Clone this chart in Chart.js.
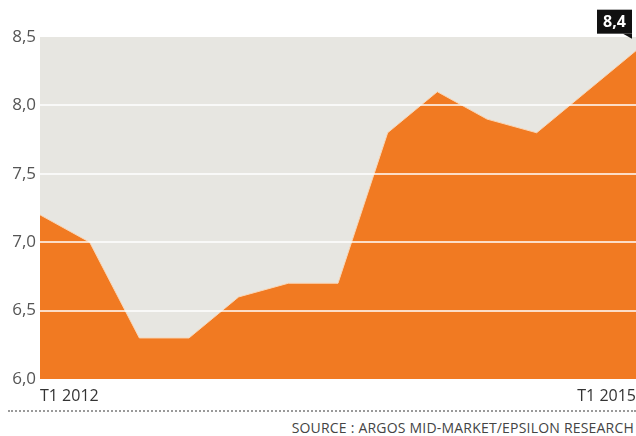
<!DOCTYPE html>
<html>
<head>
<meta charset="utf-8">
<script src="https://cdn.jsdelivr.net/npm/chart.js@4.4.1/dist/chart.umd.min.js"></script>
<style>
  html, body { margin: 0; padding: 0; background: #fff; }
  #wrap { position: relative; width: 636px; height: 436px; overflow: hidden; }
  #chartBox { position: absolute; left: 0; top: 0; width: 636px; height: 406px; }
  .rule { position: absolute; left: 8px; right: 0; top: 410px; border-top: 2px dotted #9a9a9a; }
  .source { position: absolute; right: 2px; top: 418px; font: 14px "Open Sans", sans-serif; color: #444; letter-spacing: 0.2px; }
</style>
</head>
<body>
<div id="wrap">
  <div id="chartBox"><canvas id="chart"></canvas></div>
  <div class="rule"></div>
  <div class="source">SOURCE : ARGOS MID-MARKET/EPSILON RESEARCH</div>
</div>
<script>
const quarters = [
  "T1 2012", "T2 2012", "T3 2012", "T4 2012",
  "T1 2013", "T2 2013", "T3 2013", "T4 2013",
  "T1 2014", "T2 2014", "T3 2014", "T4 2014",
  "T1 2015"
];
const multiples = [7.2, 7.0, 6.3, 6.3, 6.6, 6.7, 6.7, 7.8, 8.1, 7.9, 7.8, 8.1, 8.4];
const shownLabels = ["T1 2012", "T1 2015"];
const yTicks = [6.0, 6.5, 7.0, 7.5, 8.0, 8.5];

const fmt = (v) => v.toFixed(1).replace(".", ",");

const plotBackground = {
  id: "plotBackground",
  beforeDraw(chart) {
    const { ctx, chartArea: a } = chart;
    ctx.save();
    ctx.fillStyle = "#e7e6e1";
    ctx.fillRect(a.left, a.top, a.right - a.left, a.bottom - a.top);
    ctx.restore();
  }
};

const lastValueTag = {
  id: "lastValueTag",
  afterDraw(chart) {
    const { ctx } = chart;
    const i = multiples.length - 1;
    const px = chart.scales.x.getPixelForValue(i);
    const py = chart.scales.y.getPixelForValue(multiples[i]);
    const right = px - 4, bottom = py - 17, w = 35, h = 24;
    ctx.save();
    ctx.fillStyle = "#111";
    ctx.fillRect(right - w, bottom - h, w, h);
    ctx.beginPath();
    ctx.moveTo(right - 9, bottom);
    ctx.lineTo(right, bottom);
    ctx.lineTo(right, bottom + 5);
    ctx.closePath();
    ctx.fill();
    ctx.fillStyle = "#fff";
    ctx.font = 'bold 16px "Open Sans", sans-serif';
    ctx.textAlign = "center";
    ctx.textBaseline = "middle";
    ctx.fillText(fmt(multiples[i]), right - w / 2, bottom - h / 2 + 1);
    ctx.restore();
  }
};

new Chart(document.getElementById("chart"), {
  type: "line",
  data: {
    labels: quarters,
    datasets: [{
      data: multiples,
      fill: "start",
      backgroundColor: "#f17a22",
      borderColor: "#f9d6b6",
      borderWidth: 1,
      pointRadius: 0,
      tension: 0
    }]
  },
  options: {
    responsive: true,
    maintainAspectRatio: false,
    animation: false,
    layout: { padding: { top: 37, left: 0, right: 0, bottom: 0 } },
    plugins: { legend: { display: false }, tooltip: { enabled: false } },
    scales: {
      x: {
        offset: false,
        border: { display: false },
        grid: { display: false, drawTicks: false },
        ticks: {
          autoSkip: false,
          maxRotation: 0,
          align: "inner",
          padding: 8,
          color: "#333",
          font: { family: "Open Sans", size: 16 },
          callback: (v, i) => (shownLabels.includes(quarters[i]) ? quarters[i] : "")
        },
        afterFit: (s) => { s.height = 27; s.paddingLeft = 0; s.paddingRight = 0; }
      },
      y: {
        min: yTicks[0],
        max: yTicks[yTicks.length - 1],
        border: { display: false },
        grid: {
          z: 1,
          drawTicks: false,
          lineWidth: 2,
          color: (c) => (c.tick && (c.tick.value === yTicks[0] || c.tick.value === yTicks[yTicks.length - 1]))
            ? "rgba(0,0,0,0)" : "rgba(255,255,255,0.75)"
        },
        afterBuildTicks: (s) => { s.ticks = yTicks.map((v) => ({ value: v })); },
        ticks: {
          padding: 4,
          color: "#555",
          font: { family: "Open Sans", size: 17 },
          callback: (v) => fmt(v)
        },
        afterFit: (s) => { s.width = 40; }
      }
    }
  },
  plugins: [plotBackground, lastValueTag]
});
</script>
</body>
</html>
